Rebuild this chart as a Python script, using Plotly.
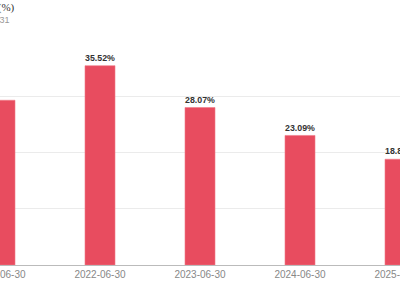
import plotly.graph_objects as go

categories = ["2021-06-30", "2022-06-30", "2023-06-30", "2024-06-30", "2025-06-30"]
values = [29.36, 35.52, 28.07, 23.09, 18.85]
labels = [f"<b>{v:.2f}%</b>" for v in values]

title_text = "销售净利率 (%)"
subtitle_text = "数据截至 2025-03-31"

fig = go.Figure()
fig.add_trace(go.Bar(
    x=categories, y=values, text=labels,
    textposition="outside", cliponaxis=False,
    textfont=dict(family="Liberation Sans, Arial", size=10, color="#333333"),
    marker=dict(color="#E84C5F", line=dict(color="#F07A88", width=0.6)),
    width=0.3,
))

fig.update_layout(
    width=400, height=300,
    margin=dict(l=0, r=0, t=40, b=35),
    paper_bgcolor="white", plot_bgcolor="white",
    showlegend=False,
    xaxis=dict(type="category", range=[0, 4], showgrid=False, automargin=False,
               showline=True, linecolor="#BBBBBB", linewidth=1,
               ticks="", tickfont=dict(family="Liberation Sans, Arial", size=10, color="#888888")),
    yaxis=dict(range=[0, 40.1], tickvals=[0, 10, 20, 30, 40], showgrid=True, gridcolor="#EBEBEB",
               zeroline=False, showticklabels=False, ticks="", automargin=False),
    annotations=[
        dict(text=title_text, xref="paper", yref="paper", x=17/400, y=(265-8)/225,
             xanchor="right", yanchor="middle", showarrow=False,
             font=dict(family="Liberation Serif, serif", size=11, color="#333333")),
        dict(text=subtitle_text, xref="paper", yref="paper", x=12/400, y=(265-20)/225,
             xanchor="right", yanchor="middle", showarrow=False,
             font=dict(family="Liberation Sans, Arial", size=9, color="#999999")),
    ],
)

fig.write_html("out.html")
